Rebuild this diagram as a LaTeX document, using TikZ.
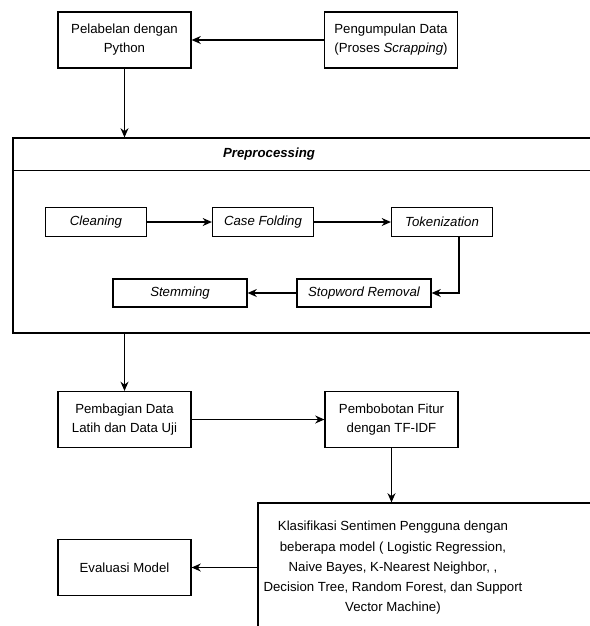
\documentclass[tikz,border=0pt]{standalone}
\usepackage{fontspec}
\setmainfont{Liberation Sans}
\usetikzlibrary{arrows.meta}
\begin{document}
\begin{tikzpicture}[x=0.025cm, y=-0.025cm, font=\fontsize{9.4pt}{13.5pt}\selectfont,
    box/.style={draw, line width=0.85pt, minimum width=3.325cm, minimum height=1.4cm, align=center, inner sep=1pt},
    substep/.style={draw, line width=0.85pt, minimum width=2.525cm, minimum height=0.725cm, font=\fontsize{9.4pt}{13.5pt}\selectfont\itshape},
    arr/.style={-{Stealth[length=2.3mm, width=2mm]}, line width=0.85pt}]
    \useasboundingbox (0,0) rectangle (590,626);
    \clip (0,0) rectangle (590,626);
    % top row
    \node[box] (label) at (124.5,40) {Pelabelan dengan\\Python};
    \node[box] (collect) at (391,40) {Pengumpulan Data\\(Proses \textit{Scrapping})};
    % preprocessing block
    \node[draw, line width=0.85pt, minimum width=14.675cm, minimum height=4.875cm] (prep) at (306.5,235.5) {};
    \draw[line width=0.85pt] ([yshift=-0.825cm]prep.north west) -- ([yshift=-0.825cm]prep.north east);
    \node[font=\fontsize{9.4pt}{13.5pt}\selectfont\bfseries\itshape] (preptitle) at (269,154) {Preprocessing};
    \node[substep] (clean) at (96,222) {Cleaning};
    \node[substep] (fold) at (263,222) {Case Folding};
    \node[substep] (token) at (442,222) {Tokenization};
    \node[substep, minimum width=3.35cm, minimum height=0.7cm] (stop) at (364,293) {Stopword Removal};
    \node[substep, minimum width=3.35cm, minimum height=0.7cm] (stem) at (180,293) {Stemming};
    % lower part
    \node[box] (split) at (124.5,419.5) {Pembagian Data\\Latih dan Data Uji};
    \node[box] (tfidf) at (391.5,419.5) {Pembobotan Fitur\\dengan TF-IDF};
    \node[draw, line width=0.85pt, minimum width=8.55cm, minimum height=3.425cm] (classify) at (429,571.5) {};
    \node[align=center, font=\fontsize{9.4pt}{14.4pt}\selectfont] (classtext) at (393,568) {Klasifikasi Sentimen Pengguna dengan\\beberapa model ( Logistic Regression,\\Naive Bayes, K-Nearest Neighbor, ,\\Decision Tree, Random Forest, dan Support\\Vector Machine)};
    \node[box] (eval) at (124.5,567.5) {Evaluasi Model};
    % connectors
    \draw[arr] (collect) -- (label);
    \draw[arr] (label) -- (label |- prep.north);
    \draw[arr] (clean) -- (fold);
    \draw[arr] (fold) -- (token);
    \draw[arr] ([xshift=0.425cm]token.south) |- (stop);
    \draw[arr] (stop) -- (stem);
    \draw[arr] (prep.south -| split) -- (split);
    \draw[arr] (split) -- (tfidf);
    \draw[arr] (tfidf) -- (tfidf |- classify.north);
    \draw[arr] (classify.west |- eval) -- (eval);
\end{tikzpicture}
\end{document}
